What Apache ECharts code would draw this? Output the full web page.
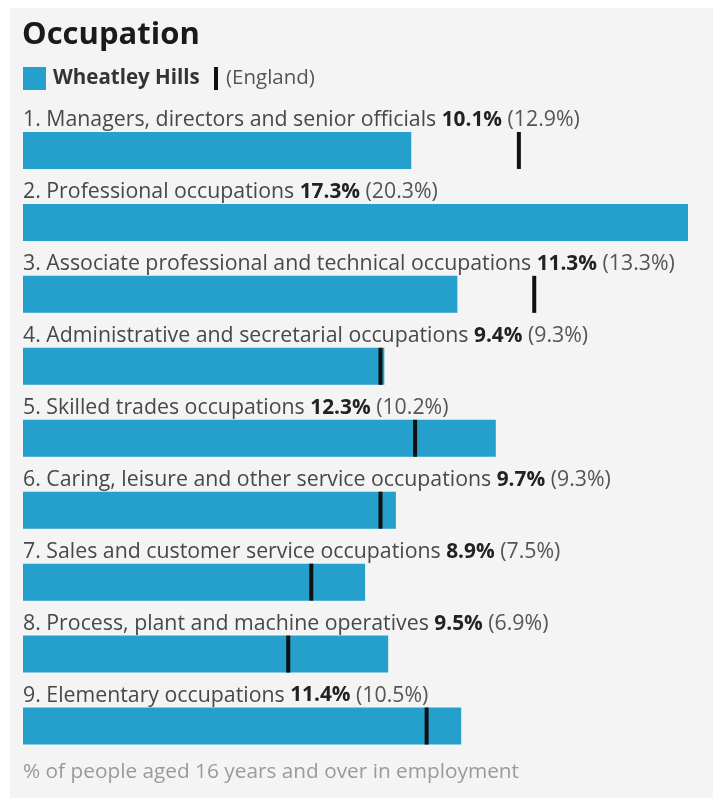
<!DOCTYPE html>
<html>
<head>
<meta charset="utf-8">
<script src="https://cdn.jsdelivr.net/npm/echarts@6/dist/echarts.min.js"></script>
<style>
  html, body { margin: 0; padding: 0; background: #ffffff; }
  #chart { width: 713px; height: 798px; }
</style>
</head>
<body>
<div id="chart"></div>
<script>
  // data
  const categories = [
    '1. Managers, directors and senior officials',
    '2. Professional occupations',
    '3. Associate professional and technical occupations',
    '4. Administrative and secretarial occupations',
    '5. Skilled trades occupations',
    '6. Caring, leisure and other service occupations',
    '7. Sales and customer service occupations',
    '8. Process, plant and machine operatives',
    '9. Elementary occupations'
  ]
  const localValues = [10.1, 17.3, 11.3, 9.4, 12.3, 9.7, 8.9, 9.5, 11.4]
  const englandValues = [12.9, 20.3, 13.3, 9.3, 10.2, 9.3, 7.5, 6.9, 10.5]

  const blue = '#259fcb'
  const font = '"Open Sans", "Noto Sans", sans-serif'

  let chart = echarts.init(document.getElementById('chart'))
  chart.setOption({
    backgroundColor: '#ffffff',
    animation: false,
    textStyle: { fontFamily: font },
    graphic: [
      // panel
      { type: 'rect', z: -10, shape: { x: 10, y: 8, width: 703, height: 790 }, style: { fill: '#f4f4f4' } },
      { type: 'text', left: 22, top: 20, style: { text: 'Occupation', font: 'bold 31px ' + font, fill: '#1a1a1a' } },
      // legend
      { type: 'rect', shape: { x: 23, y: 67, width: 23, height: 23 }, style: { fill: blue } },
      { type: 'text', left: 53, top: 66, style: { text: 'Wheatley Hills', font: 'bold 20.5px ' + font, fill: '#333', lineHeight: 25 } },
      { type: 'rect', shape: { x: 214, y: 67, width: 4, height: 23 }, style: { fill: '#111' } },
      { type: 'text', left: 226, top: 66, style: { text: '(England)', font: '20.5px ' + font, fill: '#555', lineHeight: 25 } },
      { type: 'text', left: 23, top: 759, style: { text: '% of people aged 16 years and over in employment', font: '20.8px ' + font, fill: '#9a9a9a', lineHeight: 26 } }
    ],
    grid: { left: 23, right: 25, top: 114.5, bottom: 36 },
    xAxis: {
      type: 'value', min: 0, max: 17.3,
      show: false
    },
    yAxis: {
      type: 'category', data: categories, inverse: true,
      show: false
    },
    series: [
      {
        name: 'Wheatley Hills',
        type: 'bar',
        data: localValues,
        barWidth: 37,
        itemStyle: { color: blue },
        label: {
          show: true,
          position: [0, 1],
          verticalAlign: 'bottom',
          align: 'left',
          formatter: function(p) {
            return '{a|' + categories[p.dataIndex] + ' }{b|' + localValues[p.dataIndex] + '%}{c| (' + englandValues[p.dataIndex] + '%)}'
          },
          rich: {
            a: { fontSize: 21.3, color: '#484848', fontFamily: font, lineHeight: 26 },
            b: { fontSize: 20.8, color: '#222', fontWeight: 'bold', fontFamily: font, lineHeight: 26 },
            c: { fontSize: 21.3, color: '#555', fontFamily: font, lineHeight: 26 }
          }
        }
      },
      {
        name: '(England)',
        type: 'scatter',
        data: englandValues,
        clip: true,
        symbol: 'rect',
        symbolSize: [4, 37],
        itemStyle: { color: '#111', opacity: 1 },
        z: 5
      }
    ]
  })
</script>
</body>
</html>
